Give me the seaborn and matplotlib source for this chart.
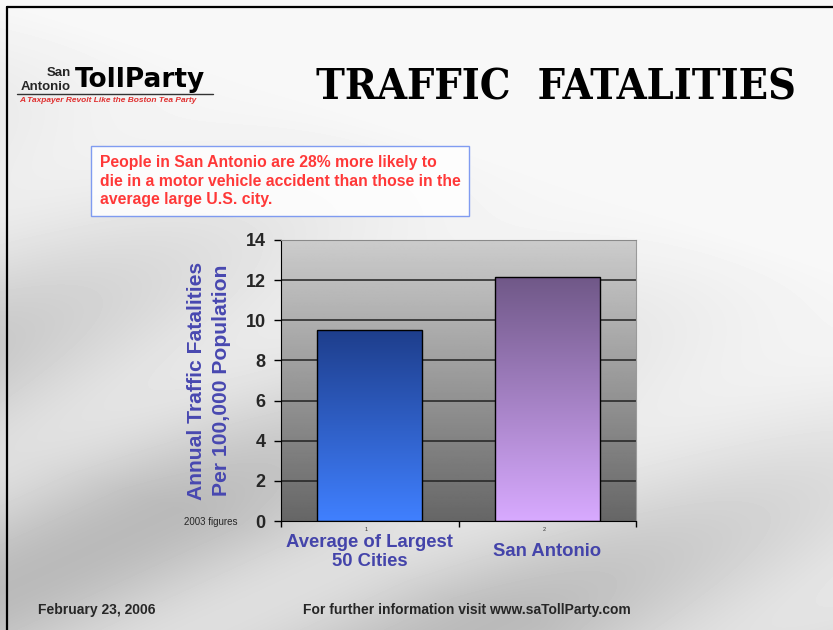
import numpy as np
import pandas as pd
import matplotlib
matplotlib.use("Agg")
import matplotlib.pyplot as plt
from matplotlib.colors import LinearSegmentedColormap
from matplotlib.lines import Line2D
import seaborn as sb

cities = ["Average of Largest\n50 Cities", "San Antonio"]
rates = [9.5, 12.15]
footnotes = ["1", "2"]
yticks = [0, 2, 4, 6, 8, 10, 12, 14]

df = pd.DataFrame({"city": cities, "rate": rates})

sb.set_style("white")
plt.rcParams["font.family"] = ["Liberation Sans", "DejaVu Sans"]

fig = plt.figure(figsize=(8.33, 6.3), dpi=100)

# slide background: light gray road texture, faded
bg = fig.add_axes([0, 0, 1, 1], zorder=-5)
yy, xx = np.mgrid[0:630, 0:833]
d = xx * 0.42 + yy * 0.91
fade = np.clip(yy / 630 * 1.4 - xx / 833 * 0.6, 0, 1)
tex = 0.97 - fade * (0.10 + 0.14 * (0.5 + 0.5 * np.sin(d / 38.0)))
bg.imshow(tex, cmap="gray", vmin=0, vmax=1, aspect="auto", interpolation="bilinear",
          extent=(0, 833, 630, 0))
bg.set_xlim(0, 833)
bg.set_ylim(630, 0)
bg.axis("off")

# slide frame
fig.add_artist(Line2D([7 / 833, 1], [1 - 7 / 630] * 2, color="black", lw=1.6))
fig.add_artist(Line2D([7 / 833] * 2, [0, 1 - 7 / 630], color="black", lw=1.6))

ax = fig.add_axes([281 / 833, 1 - 521 / 630, 355 / 833, 281 / 630])
sb.barplot(data=df, x="city", y="rate", ax=ax, width=0.59, color="white")
ax.set_xlim(-0.5, 1.5)
ax.set_ylim(0, 14)

# plot area gradient
grad = np.linspace(0.80, 0.40, 256)[:, None]
ax.imshow(grad, cmap="gray", vmin=0, vmax=1, extent=(-0.5, 1.5, 0, 14),
          aspect="auto", origin="upper", zorder=0)
for t in yticks[1:-1]:
    ax.axhline(t, color="#222222", lw=1.1, zorder=1)

bar_colors = [("#1e3e8c", "#4080ff"), ("#705888", "#d8aaff")]
for p, (top, bot) in zip(ax.patches, bar_colors):
    cm = LinearSegmentedColormap.from_list("b", [top, bot])
    x0, w, h = p.get_x(), p.get_width(), p.get_height()
    ax.imshow(np.linspace(0, 1, 256)[:, None], cmap=cm, origin="upper", aspect="auto",
              extent=(x0, x0 + w, 0, h), zorder=2)
    p.set_facecolor("none")
    p.set_edgecolor("black")
    p.set_linewidth(1.0)
    p.set_zorder(3)
ax.set_xlim(-0.5, 1.5)
ax.set_ylim(0, 14)

ax.spines["left"].set_color("black")
ax.spines["bottom"].set_color("black")
ax.spines["top"].set_color("#8a8a8a")
ax.spines["right"].set_color("#9a9a9a")

ax.set_yticks(yticks)
ax.set_yticklabels([str(t) for t in yticks], fontsize=13, fontweight="bold")
ax.tick_params(axis="y", direction="out", length=5, width=1, color="black", pad=6, left=True)
ax.set_xticks([0, 1])
ax.set_xticklabels(cities, fontsize=13.3, fontweight="bold", color="#4444aa", linespacing=1.15)
for lbl in ax.get_xticklabels():
    lbl.set_va("center")
ax.tick_params(axis="x", length=0, pad=22)
ax.set_xticks([-0.5, 0.5, 1.5], minor=True)
ax.tick_params(axis="x", which="minor", direction="out", length=4, width=1, color="black", bottom=True)

ax.set_xlabel("")
ax.set_ylabel("Annual Traffic Fatalities\nPer 100,000 Population", fontsize=15.2,
              fontweight="bold", color="#4848b0", linespacing=1.35)
ax.yaxis.set_label_coords(-0.203, 0.5)
ax.yaxis.label.set_va("center")

for i, fn in enumerate(footnotes):
    ax.text(i - 0.02, -0.032, fn, transform=ax.get_xaxis_transform(), fontsize=4,
            ha="center", va="center", color="#333333")

fig.text(211 / 833, 1 - 522 / 630, "2003 figures", fontsize=7, ha="center", va="center")

# title
fig.text(556 / 833, 1 - 88 / 630, "TRAFFIC  FATALITIES", fontsize=31, fontweight="black",
         family="DejaVu Serif", stretch="condensed", ha="center", va="center", color="black")

# logo
fig.text(75 / 833, 1 - 80 / 630, "TollParty", fontsize=19, fontweight="bold",
         family="DejaVu Sans", ha="left", va="center", color="black")
fig.text(71 / 833, 1 - 73 / 630, "San", fontsize=9.5, fontweight="bold", ha="right", va="center")
fig.text(71 / 833, 1 - 87 / 630, "Antonio", fontsize=9.5, fontweight="bold", ha="right", va="center")
fig.add_artist(Line2D([17 / 833, 213 / 833], [1 - 94 / 630] * 2, color="#333333", lw=1))
fig.text(108 / 833, 1 - 100 / 630, "A Taxpayer Revolt Like the Boston Tea Party", fontsize=6.0,
         fontweight="bold", style="italic", color="#e03030", ha="center", va="center")

# callout
fig.text(100 / 833, 1 - 181 / 630,
         "People in San Antonio are 28% more likely to\n"
         "die in a motor vehicle accident than those in the\n"
         "average large U.S. city.",
         fontsize=11.3, fontweight="bold", color="#ff3838", ha="left", va="center",
         linespacing=1.3,
         bbox=dict(boxstyle="square,pad=0.55", fc="white", ec="#6b8cf0", alpha=0.85, lw=1))

# footer
fig.text(38 / 833, 1 - 610 / 630, "February 23, 2006", fontsize=10, fontweight="bold",
         ha="left", va="center")
fig.text(303 / 833, 1 - 610 / 630, "For further information visit www.saTollParty.com",
         fontsize=10, fontweight="bold", ha="left", va="center")

plt.savefig("out.png", dpi=100)
